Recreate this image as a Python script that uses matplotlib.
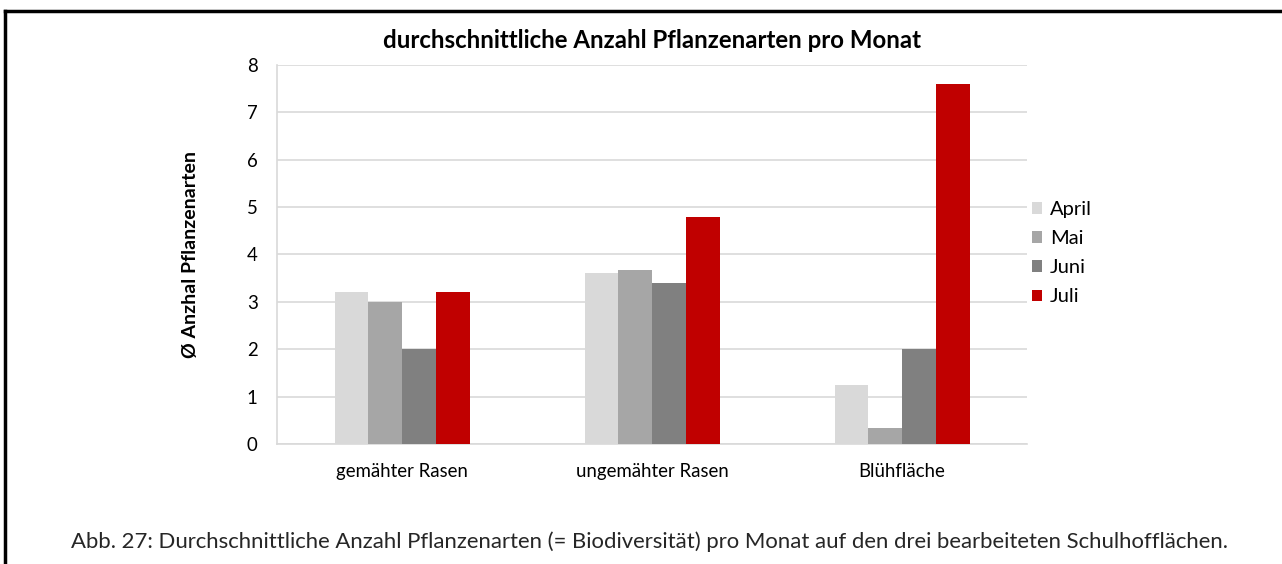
import matplotlib.pyplot as plt
import numpy as np
from matplotlib.lines import Line2D

plt.rcParams['font.family'] = ['Lato', 'DejaVu Sans']

flaechen = ['gemähter Rasen', 'ungemähter Rasen', 'Blühfläche']
monate = ['April', 'Mai', 'Juni', 'Juli']
april = [3.2, 3.6, 1.25]
mai = [3.0, 3.67, 0.33]
juni = [2.0, 3.4, 2.0]
juli = [3.2, 4.8, 7.6]
farben = ['#d9d9d9', '#a6a6a6', '#808080', '#c00000']

fig = plt.figure(figsize=(12.82, 5.64), dpi=100)
ax = fig.add_axes([0.2161, 0.2128, 0.5850, 0.6720])

x = np.arange(len(flaechen))
width = 0.135
for i, (werte, name) in enumerate(zip([april, mai, juni, juli], monate)):
    ax.bar(x + (i - 1.5) * width, werte, width, color=farben[i], label=name, zorder=3)

ax.set_xlim(-0.5, 2.5)
ax.set_ylim(0, 8)
ax.set_yticks(range(0, 9))
ax.set_xticks(x)
ax.set_xticklabels(flaechen)
ax.grid(axis='y', color='#d9d9d9', linewidth=1.2, zorder=0)
for s in ['top', 'right']:
    ax.spines[s].set_visible(False)
ax.spines['left'].set_color('#d9d9d9')
ax.spines['bottom'].set_color('#d9d9d9')
ax.spines['left'].set_linewidth(1.2)
ax.spines['bottom'].set_linewidth(1.2)
ax.tick_params(length=0, labelsize=13.4, colors='#000000')
ax.tick_params(axis='y', pad=14)
ax.tick_params(axis='x', pad=14)

ax.set_title('durchschnittliche Anzahl Pflanzenarten pro Monat', fontsize=17.3,
             fontweight='bold', pad=12)
ax.set_ylabel('Ø Anzhal Pflanzenarten', fontsize=14, fontweight='bold', labelpad=34)

ax.legend(loc='center left', bbox_to_anchor=(0.982, 0.503), frameon=False, fontsize=14.5,
          handlelength=0.5, handleheight=0.5, labelspacing=0.6, handletextpad=0.4)

fig.text(0.507, 0.04, 'Abb. 27: Durchschnittliche Anzahl Pflanzenarten (= Biodiversität) pro Monat '
         'auf den drei bearbeiteten Schulhofflächen.', ha='center', va='center',
         fontsize=15.9, color='#262626')

# Rahmen
fig.add_artist(Line2D([5 / 1282, 1.0], [1 - 11 / 564, 1 - 11 / 564], color='black', lw=2.5))
fig.add_artist(Line2D([5 / 1282, 5 / 1282], [1 - 11 / 564, 0.0], color='black', lw=2.5))

fig.savefig('out.png', dpi=100)
